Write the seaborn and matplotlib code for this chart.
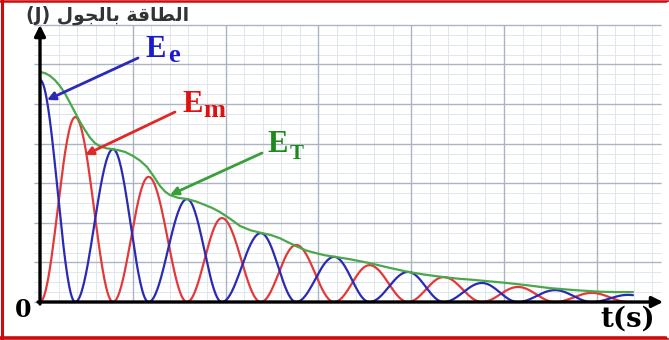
import numpy as np
import pandas as pd
import seaborn as sns
import matplotlib.pyplot as plt
from matplotlib.lines import Line2D

# ---- data (time in grid units, energy in grid units) ----
# potential (elastic) energy: peak times and peak values
ee_peak_t = [0.0, 0.787, 1.584, 2.38, 3.17, 3.966, 4.763, 5.55, 6.336]
ee_peak_v = [5.61, 3.86, 2.60, 1.74, 1.14, 0.76, 0.48, 0.30, 0.18]
# kinetic energy: peak times and peak values
em_peak_t = [0.38, 1.17, 1.96, 2.76, 3.55, 4.35, 5.15, 5.948]
em_peak_v = [4.67, 3.16, 2.12, 1.44, 0.93, 0.63, 0.38, 0.23]
t_end = 6.39
# total energy
et_t = [0.000, 0.054, 0.108, 0.162, 0.216, 0.270, 0.323, 0.377, 0.431, 0.485,
        0.539, 0.593, 0.647, 0.717, 0.787, 0.850, 0.916, 1.002, 1.078, 1.153,
        1.223, 1.293, 1.347, 1.401, 1.490, 1.584, 1.680, 1.778, 1.860, 1.940,
        2.050, 2.155, 2.270, 2.392, 2.490, 2.586, 2.680, 2.769, 2.870, 2.963,
        3.070, 3.179, 3.341, 3.556, 3.772, 3.966, 4.150, 4.343, 4.500, 4.666,
        4.850, 5.032, 5.260, 5.496, 5.760, 6.034, 6.200, 6.390]
et_v = [5.81, 5.78, 5.71, 5.60, 5.45, 5.26, 5.03, 4.79, 4.55, 4.34,
        4.15, 4.01, 3.93, 3.88, 3.86, 3.83, 3.79, 3.69, 3.57, 3.41,
        3.18, 2.93, 2.79, 2.70, 2.63, 2.60, 2.54, 2.45, 2.37, 2.27,
        2.10, 1.92, 1.81, 1.74, 1.69, 1.61, 1.50, 1.40, 1.30, 1.24,
        1.18, 1.14, 1.08, 0.98, 0.86, 0.76, 0.69, 0.63, 0.59, 0.56,
        0.52, 0.48, 0.42, 0.35, 0.30, 0.26, 0.25, 0.25]

title_text = ("(J) " + "\uFEDD\uFEEE\uFEA0\uFEDF\uFE8E\uFE91" + " "
              + "\uFE94\uFED7\uFE8E\uFEC4\uFEDF\uFE8D")

BLUE = "#2a2ab4"
RED = "#e23a3a"
GREEN = "#4aa84a"


def oscillation(peak_t, peak_v, zero_t, stop):
    """Join rising/falling half-humps between alternating peaks and zeros."""
    knots = sorted([(t, v, True) for t, v in zip(peak_t, peak_v)]
                   + [(t, 0.0, False) for t in zero_t])
    ts, vs = [], []
    for (ta, va, pa), (tb, vb, pb) in zip(knots[:-1], knots[1:]):
        s = np.linspace(0, 1, 40)
        tt = ta + s * (tb - ta)
        if pa:
            yy = va * np.cos(np.pi / 2 * s) ** 2
        else:
            yy = vb * np.sin(np.pi / 2 * s) ** 2
        ts.extend(tt)
        vs.extend(yy)
    tl, vl, pl = knots[-1]
    if pl and stop > tl:
        w = knots[-1][0] - knots[-2][0]
        tt = np.linspace(tl, stop, 10)
        ts.extend(tt)
        vs.extend(vl * np.cos(np.pi / 2 * (tt - tl) / w) ** 2)
    return ts, vs


tb, vb = oscillation(ee_peak_t, ee_peak_v, em_peak_t, t_end)
tr, vr = oscillation(em_peak_t, em_peak_v, [0.0] + ee_peak_t[1:], t_end)

df = pd.concat([
    pd.DataFrame({"t": tr, "E": vr, "curve": "Em"}),
    pd.DataFrame({"t": tb, "E": vb, "curve": "Ee"}),
])
df_t = pd.DataFrame({"t": et_t, "E": et_v})

sns.set_theme(style="white")
plt.rcParams["font.family"] = ["DejaVu Sans"]

fig = plt.figure(figsize=(6.69, 3.40), dpi=100, facecolor="white")
ax = fig.add_axes([0, 0, 1, 1])

XU, YU, X0, Y0 = 92.8, 39.6, 40, 302


def px(x, y):
    return (x - X0) / XU, (Y0 - y) / YU


# graph paper
gx0, gx1 = -0.06, (661 - X0) / XU
ax.vlines(np.arange(0, 6.7, 0.2), 0, 7, color="#e0e6ed", lw=0.7, zorder=0)
ax.hlines(np.arange(0, 7.01, 0.25), gx0, gx1, color="#e0e6ed", lw=0.7, zorder=0)
ax.vlines(np.arange(0, 7), 0, 7, color="#aab5c4", lw=1.0, zorder=0)
ax.hlines(np.arange(0, 8), gx0, gx1, color="#aab5c4", lw=1.0, zorder=0)

# energy curves
sns.lineplot(data=df, x="t", y="E", hue="curve", palette={"Em": RED, "Ee": BLUE},
             estimator=None, sort=False, legend=False, lw=1.6, ax=ax, zorder=3)
sns.lineplot(data=df_t, x="t", y="E", color=GREEN, estimator=None, sort=False,
             lw=1.6, ax=ax, zorder=4)
ax.set_xlim(-X0 / XU, (669 - X0) / XU)
ax.set_ylim(-(340 - Y0) / YU, Y0 / YU)
ax.axis("off")

# axes with arrows
ax.annotate("", xy=px(663, 302), xytext=px(38, 302),
            arrowprops=dict(arrowstyle="-|>", color="black", lw=2.4,
                            mutation_scale=16, shrinkA=0, shrinkB=0), zorder=6)
ax.annotate("", xy=px(40, 25), xytext=px(40, 304),
            arrowprops=dict(arrowstyle="-|>", color="black", lw=2.4,
                            mutation_scale=16, shrinkA=0, shrinkB=0), zorder=6)

ax.text(*px(23, 317), "0", ha="center", va="baseline", fontsize=17,
        fontweight="bold", family="DejaVu Serif", color="black")
ax.text(*px(628, 319), "t(s)", ha="center", va="center", fontsize=20,
        fontweight="bold", family="DejaVu Serif", color="black")
ax.text(*px(108, 15), title_text, ha="center", va="center", fontsize=13.5,
        fontweight="bold", color="#333333")

# curve labels with pointers
serif = "Liberation Serif"
ax.text(*px(145, 57), "E", ha="left", va="baseline", fontsize=22,
        fontweight="bold", family=serif, color="#1a1ad0")
ax.text(*px(168, 62), "e", ha="left", va="baseline", fontsize=19,
        fontweight="bold", family=serif, color="#1a1ad0")
ax.text(*px(182, 112), "E", ha="left", va="baseline", fontsize=22,
        fontweight="bold", family=serif, color="#e01010")
ax.text(*px(203, 117), "m", ha="left", va="baseline", fontsize=19,
        fontweight="bold", family=serif, color="#e01010")
ax.text(*px(267, 152), "E", ha="left", va="baseline", fontsize=22,
        fontweight="bold", family=serif, color="#1e8a1e")
ax.text(*px(290, 159), "T", ha="left", va="baseline", fontsize=15,
        fontweight="bold", family=serif, color="#1e8a1e")

for start, end, col in [((138, 58), (47, 100), BLUE),
                        ((175, 112), (85, 155), "#e02828"),
                        ((262, 153), (170, 195), "#3a9e3a")]:
    ax.annotate("", xy=px(*end), xytext=px(*start),
                arrowprops=dict(arrowstyle="-|>", color=col, lw=2.0,
                                mutation_scale=12, shrinkA=0, shrinkB=0),
                zorder=7)

# red frame on top, left and bottom edges; right edge left open
W, H = 669.0, 340.0
frame = "#cc0c0c"
fig.add_artist(Line2D([0, 1], [1 - 1.2 / H, 1 - 1.2 / H], color=frame, lw=1.8,
                      transform=fig.transFigure))
fig.add_artist(Line2D([1.5 / W, 1.5 / W], [0, 1], color=frame, lw=2.2,
                      transform=fig.transFigure))
fig.add_artist(Line2D([0, 1], [1.8 / H, 1.8 / H], color=frame, lw=2.6,
                      transform=fig.transFigure))
fig.add_artist(Line2D([1 - 1.5 / W, 1 - 1.5 / W], [4.5 / H, 1 - 3 / H],
                      color="white", lw=2.5, transform=fig.transFigure))

fig.savefig("out.png", dpi=100, facecolor="white")
